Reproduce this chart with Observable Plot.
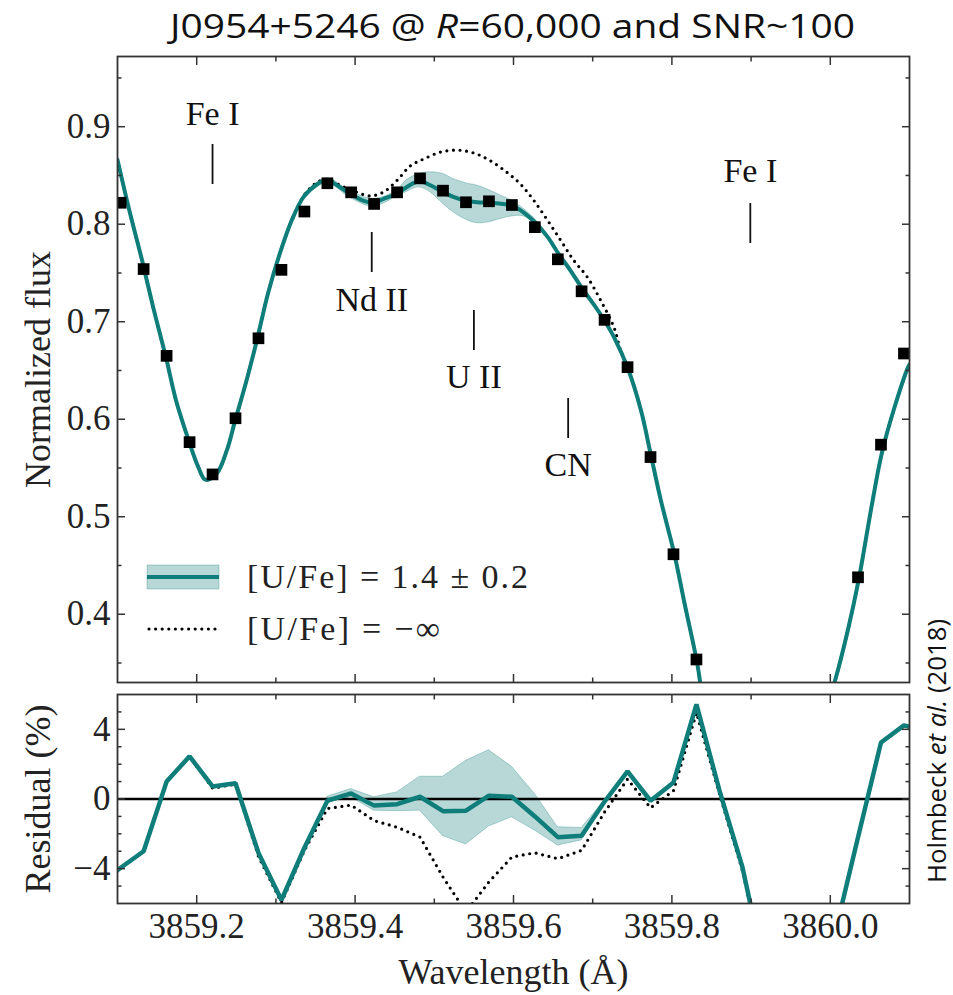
<!DOCTYPE html>
<html>
<head>
<meta charset="utf-8">
<script src="https://cdn.jsdelivr.net/npm/d3@7"></script>
<script src="https://cdn.jsdelivr.net/npm/@observablehq/plot@0.6"></script>
<style>
  body { margin: 0; background: #fff; }
  #wrap { position: relative; width: 953px; height: 995px; overflow: hidden; background: #fff; }
  #topPanel { position: absolute; left: 0; top: 0; }
  #botPanel { position: absolute; left: 0; top: 690px; }
  #overlay { position: absolute; left: 0; top: 0; pointer-events: none; }
</style>
</head>
<body>
<div id="wrap">
  <div id="topPanel"></div>
  <div id="botPanel"></div>
  <svg id="overlay" width="953" height="995"></svg>
</div>
<script>
// ---------------- DATA ----------------
const TEAL = "#0f7d79";

// observation grid (wavelength, Å)
const gridWave = [3859.074, 3859.104, 3859.133, 3859.162, 3859.191, 3859.220, 3859.249, 3859.278, 3859.307, 3859.336,
  3859.365, 3859.395, 3859.424, 3859.453, 3859.482, 3859.511, 3859.540, 3859.569, 3859.598, 3859.627,
  3859.656, 3859.686, 3859.715, 3859.744, 3859.773, 3859.802, 3859.831, 3859.860, 3859.889, 3859.918,
  3859.947, 3859.977, 3860.006, 3860.035, 3860.064, 3860.093, 3860.122];
// observed normalized flux (null = outside the plotted range)
const obsFlux = [null, 0.822, 0.754, 0.665, 0.5765, 0.5434, 0.601, 0.683, 0.7532, 0.813,
  0.842, 0.8327, 0.8208, 0.8327, 0.847, 0.8344, 0.8225, 0.8235, 0.8197, 0.797,
  0.764, 0.7312, 0.7019, 0.6534, 0.5612, 0.4615, 0.3536, null, null, null,
  null, null, null, 0.4379, 0.5739, 0.6674, null];
// residuals (%)
const resFit = [-5.0, -3.95, -3.0, 1.0, 2.45, 0.72, 0.9, -3.1, -5.8, -2.8,
  -0.1, 0.32, -0.38, -0.30, 0.13, -0.70, -0.67, 0.19, 0.13, -1.0,
  -2.19, -2.11, -0.15, 1.58, -0.1, 0.95, 5.43, 0.5, -3.9, -10,
  -16, -15, -7.7, -2.2, 3.24, 4.23, 3.9];
const resNoU = [-5.0, -3.95, -3.0, 1.0, 2.45, 0.62, 0.85, -3.3, -5.95, -2.95,
  -0.55, -0.35, -1.24, -1.62, -2.19, -4.48, -6.5, -4.76, -3.33, -3.09,
  -3.43, -2.95, -0.75, 1.14, -0.51, 0.48, 4.95, 0.3, -4.1, -10,
  -16, -15, -7.7, -2.2, 3.24, 4.23, 3.9];
const resBandWave = [3859.365, 3859.395, 3859.424, 3859.453, 3859.482, 3859.511, 3859.540, 3859.569, 3859.598, 3859.627, 3859.656, 3859.686, 3859.715];
const resBandLo = [-0.19, 0.1, -0.67, -0.7, -0.67, -2.13, -2.61, -1.58, -1.05, -1.81, -2.67, -2.38, -0.2];
const resBandHi = [0.13, 0.57, 0.1, 0.38, 1.28, 1.28, 2.19, 2.8, 1.85, 0.29, -1.62, -1.66, -0.1];

// synthetic spectrum [U/Fe] = 1.4 (two visible pieces)
const modelWaveA = [3859.100, 3859.115, 3859.131, 3859.145, 3859.161, 3859.174, 3859.190, 3859.202, 3859.211, 3859.225,
  3859.238, 3859.248, 3859.263, 3859.276, 3859.290, 3859.305, 3859.320, 3859.335, 3859.352, 3859.364,
  3859.381, 3859.394, 3859.411, 3859.423, 3859.436, 3859.452, 3859.465, 3859.481, 3859.495, 3859.511,
  3859.524, 3859.540, 3859.554, 3859.569, 3859.584, 3859.598, 3859.613, 3859.627, 3859.643, 3859.657,
  3859.672, 3859.686, 3859.702, 3859.715, 3859.727, 3859.744, 3859.761, 3859.773, 3859.786, 3859.803,
  3859.816, 3859.832, 3859.837];
const modelFluxA = [0.866, 0.814, 0.763, 0.715, 0.664, 0.619, 0.578, 0.551, 0.538, 0.544,
  0.568, 0.597, 0.640, 0.681, 0.729, 0.770, 0.804, 0.828, 0.841, 0.845,
  0.838, 0.831, 0.824, 0.822, 0.826, 0.831, 0.838, 0.844, 0.840, 0.833,
  0.828, 0.824, 0.8225, 0.822, 0.821, 0.819, 0.812, 0.802, 0.787, 0.7695,
  0.7525, 0.735, 0.717, 0.701, 0.684, 0.653, 0.609, 0.565, 0.517, 0.462,
  0.411, 0.3495, 0.322];
const modelWaveB = [3860.002, 3860.006, 3860.022, 3860.036, 3860.052, 3860.065, 3860.081, 3860.098, 3860.100];
const modelFluxB = [0.322, 0.332, 0.383, 0.436, 0.510, 0.565, 0.612, 0.653, 0.656];

// uncertainty band of the synthetic spectrum
const bandWave = [3859.335, 3859.364, 3859.394, 3859.423, 3859.452, 3859.465, 3859.481, 3859.495, 3859.511, 3859.524,
  3859.540, 3859.554, 3859.569, 3859.584, 3859.598, 3859.613, 3859.627, 3859.643];
const bandLo = [0.826, 0.842, 0.827, 0.818, 0.828, 0.833, 0.8378, 0.8327, 0.821, 0.8123,
  0.8047, 0.801, 0.802, 0.8054, 0.808, 0.808, 0.800, 0.786];
const bandHi = [0.830, 0.847, 0.834, 0.826, 0.834, 0.845, 0.8515, 0.8532, 0.8515, 0.8464,
  0.842, 0.8396, 0.835, 0.8293, 0.8242, 0.8156, 0.8054, 0.788];

// synthetic spectrum without uranium (where it differs from the fit)
const noUWave = [3859.335, 3859.352, 3859.364, 3859.381, 3859.402, 3859.419, 3859.436, 3859.453, 3859.470, 3859.487,
  3859.508, 3859.529, 3859.550, 3859.571, 3859.592, 3859.609, 3859.626, 3859.643, 3859.660, 3859.676,
  3859.693, 3859.710, 3859.727, 3859.735];
const noUFlux = [0.829, 0.843, 0.846, 0.840, 0.833, 0.829, 0.833, 0.845, 0.860, 0.867,
  0.874, 0.876, 0.873, 0.865, 0.853, 0.841, 0.824, 0.804, 0.783, 0.763,
  0.746, 0.722, 0.694, 0.671];

// line identifications
const lineNames = ["Fe I", "Nd II", "U II", "CN", "Fe I"];
const lineWave = [3859.220, 3859.421, 3859.550, 3859.669, 3859.899];
const lineTop = [0.8818, 0.7915, 0.7115, 0.6213, 0.8212];
const lineBottom = [0.8407, 0.7505, 0.6705, 0.5802, 0.7802];
const lineLabelY = [0.9125, 0.7218, 0.6428, 0.5526, 0.854];

// axes
const xDomain = [3859.1, 3860.1];
const xLabelTicks = [3859.2, 3859.4, 3859.6, 3859.8, 3860.0];
const xMinorTicks = [3859.3, 3859.5, 3859.7, 3859.9];
const fluxDomain = [0.33, 0.972];
const fluxMajor = [0.4, 0.5, 0.6, 0.7, 0.8, 0.9];
const fluxMinor = [0.35, 0.45, 0.55, 0.65, 0.75, 0.85, 0.95];
const resDomain = [-6, 6];
const resMajor = [-4, 0, 4];
const resMinor = [-5, -3, -2, -1, 1, 2, 3, 5];

// ---------------- TABLES ----------------
const obs = gridWave.map((w, i) => ({w, f: obsFlux[i]})).filter(d => d.f != null);
const model = [
  ...modelWaveA.map((w, i) => ({w, f: modelFluxA[i], seg: "a"})),
  ...modelWaveB.map((w, i) => ({w, f: modelFluxB[i], seg: "b"}))
];
const noU = [
  ...modelWaveA.map((w, i) => ({w, f: modelFluxA[i], seg: "a"})).filter(d => d.w < noUWave[0] || d.w > noUWave[noUWave.length - 1]),
  ...noUWave.map((w, i) => ({w, f: noUFlux[i], seg: "a"})),
  ...modelWaveB.map((w, i) => ({w, f: modelFluxB[i], seg: "b"}))
].sort((a, b) => (a.seg === b.seg ? a.w - b.w : a.seg < b.seg ? -1 : 1));
const band = bandWave.map((w, i) => ({w, lo: bandLo[i], hi: bandHi[i]}));
const lines = lineNames.map((name, i) => ({name, w: lineWave[i], y1: lineTop[i], y2: lineBottom[i], ty: lineLabelY[i]}));
const res = gridWave.map((w, i) => ({w, fit: resFit[i], nou: resNoU[i]}));
const resBand = resBandWave.map((w, i) => ({w, lo: resBandLo[i], hi: resBandHi[i]}));

const fmtMinus = d => (d < 0 ? "\u2212" + Math.abs(d) : String(d));
const blank = () => "";
const AX = {label: null, strokeWidth: 1.5, stroke: "#333"};

function tickAxes(axis, anchorA, anchorB, major, minor, majorLen, minorLen) {
  return [
    axis({...AX, anchor: anchorA, ticks: major, tickSize: -majorLen, tickFormat: blank}),
    axis({...AX, anchor: anchorA, ticks: minor, tickSize: -minorLen, tickFormat: blank}),
    axis({...AX, anchor: anchorB, ticks: major, tickSize: -majorLen, tickFormat: blank}),
    axis({...AX, anchor: anchorB, ticks: minor, tickSize: -minorLen, tickFormat: blank})
  ];
}

const FONT = "'Liberation Serif', 'DejaVu Serif', serif";

// ---------------- TOP PANEL ----------------
const topPlot = Plot.plot({
  width: 953, height: 690,
  marginLeft: 117, marginRight: 44, marginTop: 56, marginBottom: 8,
  x: {domain: xDomain},
  y: {domain: fluxDomain},
  style: {fontFamily: FONT, fontSize: "35px", color: "#222", background: "transparent"},
  marks: [
    Plot.areaY(band, {x: "w", y1: "lo", y2: "hi", curve: "catmull-rom", fill: TEAL, fillOpacity: 0.3, stroke: TEAL, strokeOpacity: 0.3, strokeWidth: 1, clip: true}),
    Plot.line(noU, {x: "w", y: "f", z: "seg", curve: "catmull-rom", stroke: "#000", strokeWidth: 3.2, strokeDasharray: "0,6.6", strokeLinecap: "round", clip: true}),
    Plot.line(model, {x: "w", y: "f", z: "seg", curve: "catmull-rom", stroke: TEAL, strokeWidth: 4, clip: true}),
    Plot.dot(obs, {x: "w", y: "f", symbol: "square", r: 6.6, fill: "#000", stroke: null, clip: true}),
    Plot.ruleX(lines, {x: "w", y1: "y1", y2: "y2", stroke: "#111", strokeWidth: 1.8}),
    Plot.text(lines, {x: "w", y: "ty", text: "name", fontSize: 34, fill: "#111"}),
    Plot.axisY({...AX, anchor: "left", ticks: fluxMajor, tickSize: 0, tickPadding: 7, tickFormat: d3.format(".1f"), stroke: null}),
    ...tickAxes(Plot.axisY, "left", "right", fluxMajor, fluxMinor, 8, 4.5),
    ...tickAxes(Plot.axisX, "top", "bottom", xLabelTicks, xMinorTicks, 8, 4.5),
    Plot.text(["Normalized flux"], {text: d => d, frameAnchor: "left", dx: -79, rotate: -90, textAnchor: "middle", lineAnchor: "middle", fontSize: 36, fill: "#222"}),
    Plot.frame({stroke: "#333", strokeWidth: 1.8})
  ]
});
document.getElementById("topPanel").append(topPlot);

// ---------------- RESIDUAL PANEL ----------------
const botPlot = Plot.plot({
  width: 953, height: 305,
  marginLeft: 117, marginRight: 44, marginTop: 4, marginBottom: 92,
  x: {domain: xDomain},
  y: {domain: resDomain},
  style: {fontFamily: FONT, fontSize: "35px", color: "#222", background: "transparent"},
  marks: [
    Plot.areaY(resBand, {x: "w", y1: "lo", y2: "hi", fill: TEAL, fillOpacity: 0.3, stroke: TEAL, strokeOpacity: 0.3, strokeWidth: 1, clip: true}),
    Plot.ruleY([0], {stroke: "#000", strokeWidth: 2.6}),
    Plot.line(res, {x: "w", y: "nou", stroke: "#000", strokeWidth: 3.2, strokeDasharray: "0,6.6", strokeLinecap: "round", clip: true}),
    Plot.line(res, {x: "w", y: "fit", stroke: TEAL, strokeWidth: 4.5, strokeLinejoin: "miter", clip: true}),
    Plot.axisY({...AX, anchor: "left", ticks: resMajor, tickSize: 0, tickPadding: 7, tickFormat: fmtMinus, stroke: null}),
    Plot.axisX({...AX, anchor: "bottom", ticks: xLabelTicks, tickSize: 0, tickPadding: 10, tickFormat: d3.format(".1f"), stroke: null}),
    ...tickAxes(Plot.axisY, "left", "right", resMajor, resMinor, 8, 4.5),
    ...tickAxes(Plot.axisX, "top", "bottom", xLabelTicks, xMinorTicks, 8, 4.5),
    Plot.text(["Residual (%)"], {text: d => d, frameAnchor: "left", dx: -79, rotate: -90, textAnchor: "middle", lineAnchor: "middle", fontSize: 36, fill: "#222"}),
    Plot.text(["Wavelength (\u00C5)"], {text: d => d, frameAnchor: "bottom", dy: 69, textAnchor: "middle", lineAnchor: "middle", fontSize: 36, fill: "#222"}),
    Plot.frame({stroke: "#333", strokeWidth: 1.8})
  ]
});
document.getElementById("botPanel").append(botPlot);

// ---------------- TITLE, LEGEND, CREDIT ----------------
const ov = d3.select("#overlay");
const title = ov.append("text")
  .attr("x", 170).attr("y", 38)
  .attr("textLength", 685).attr("lengthAdjust", "spacingAndGlyphs")
  .style("font-family", "'Open Sans', 'Noto Sans', sans-serif")
  .style("font-size", "33px").style("fill", "#111");
title.append("tspan").text("J0954+5246 @ ");
title.append("tspan").style("font-style", "italic").text("R");
title.append("tspan").text("=60,000 and SNR~100");

// legend
ov.append("rect").attr("x", 147).attr("y", 565).attr("width", 72).attr("height", 24)
  .attr("fill", TEAL).attr("fill-opacity", 0.3).attr("stroke", TEAL).attr("stroke-opacity", 0.3);
ov.append("line").attr("x1", 147).attr("x2", 219).attr("y1", 577).attr("y2", 577)
  .attr("stroke", TEAL).attr("stroke-width", 4);
ov.append("line").attr("x1", 149).attr("x2", 219).attr("y1", 629).attr("y2", 629)
  .attr("stroke", "#000").attr("stroke-width", 3.2).attr("stroke-dasharray", "0,6.6").attr("stroke-linecap", "round");
ov.append("text").attr("x", 247).attr("y", 588).attr("textLength", 281).attr("lengthAdjust", "spacing")
  .style("font-family", FONT).style("font-size", "34px").style("fill", "#222")
  .text("[U/Fe] = 1.4 \u00B1 0.2");
ov.append("text").attr("x", 247).attr("y", 640).attr("textLength", 193).attr("lengthAdjust", "spacing")
  .style("font-family", FONT).style("font-size", "34px").style("fill", "#222")
  .text("[U/Fe] = \u2212\u221E");

// credit
const credit = ov.append("text")
  .attr("transform", "translate(946,751) rotate(-90)")
  .attr("text-anchor", "middle")
  .attr("textLength", 264).attr("lengthAdjust", "spacingAndGlyphs")
  .style("font-family", "'Open Sans', 'Noto Sans', sans-serif")
  .style("font-size", "25px").style("fill", "#111");
credit.append("tspan").text("Holmbeck ");
credit.append("tspan").style("font-style", "italic").text("et al.");
credit.append("tspan").text(" (2018)");
</script>
</body>
</html>
